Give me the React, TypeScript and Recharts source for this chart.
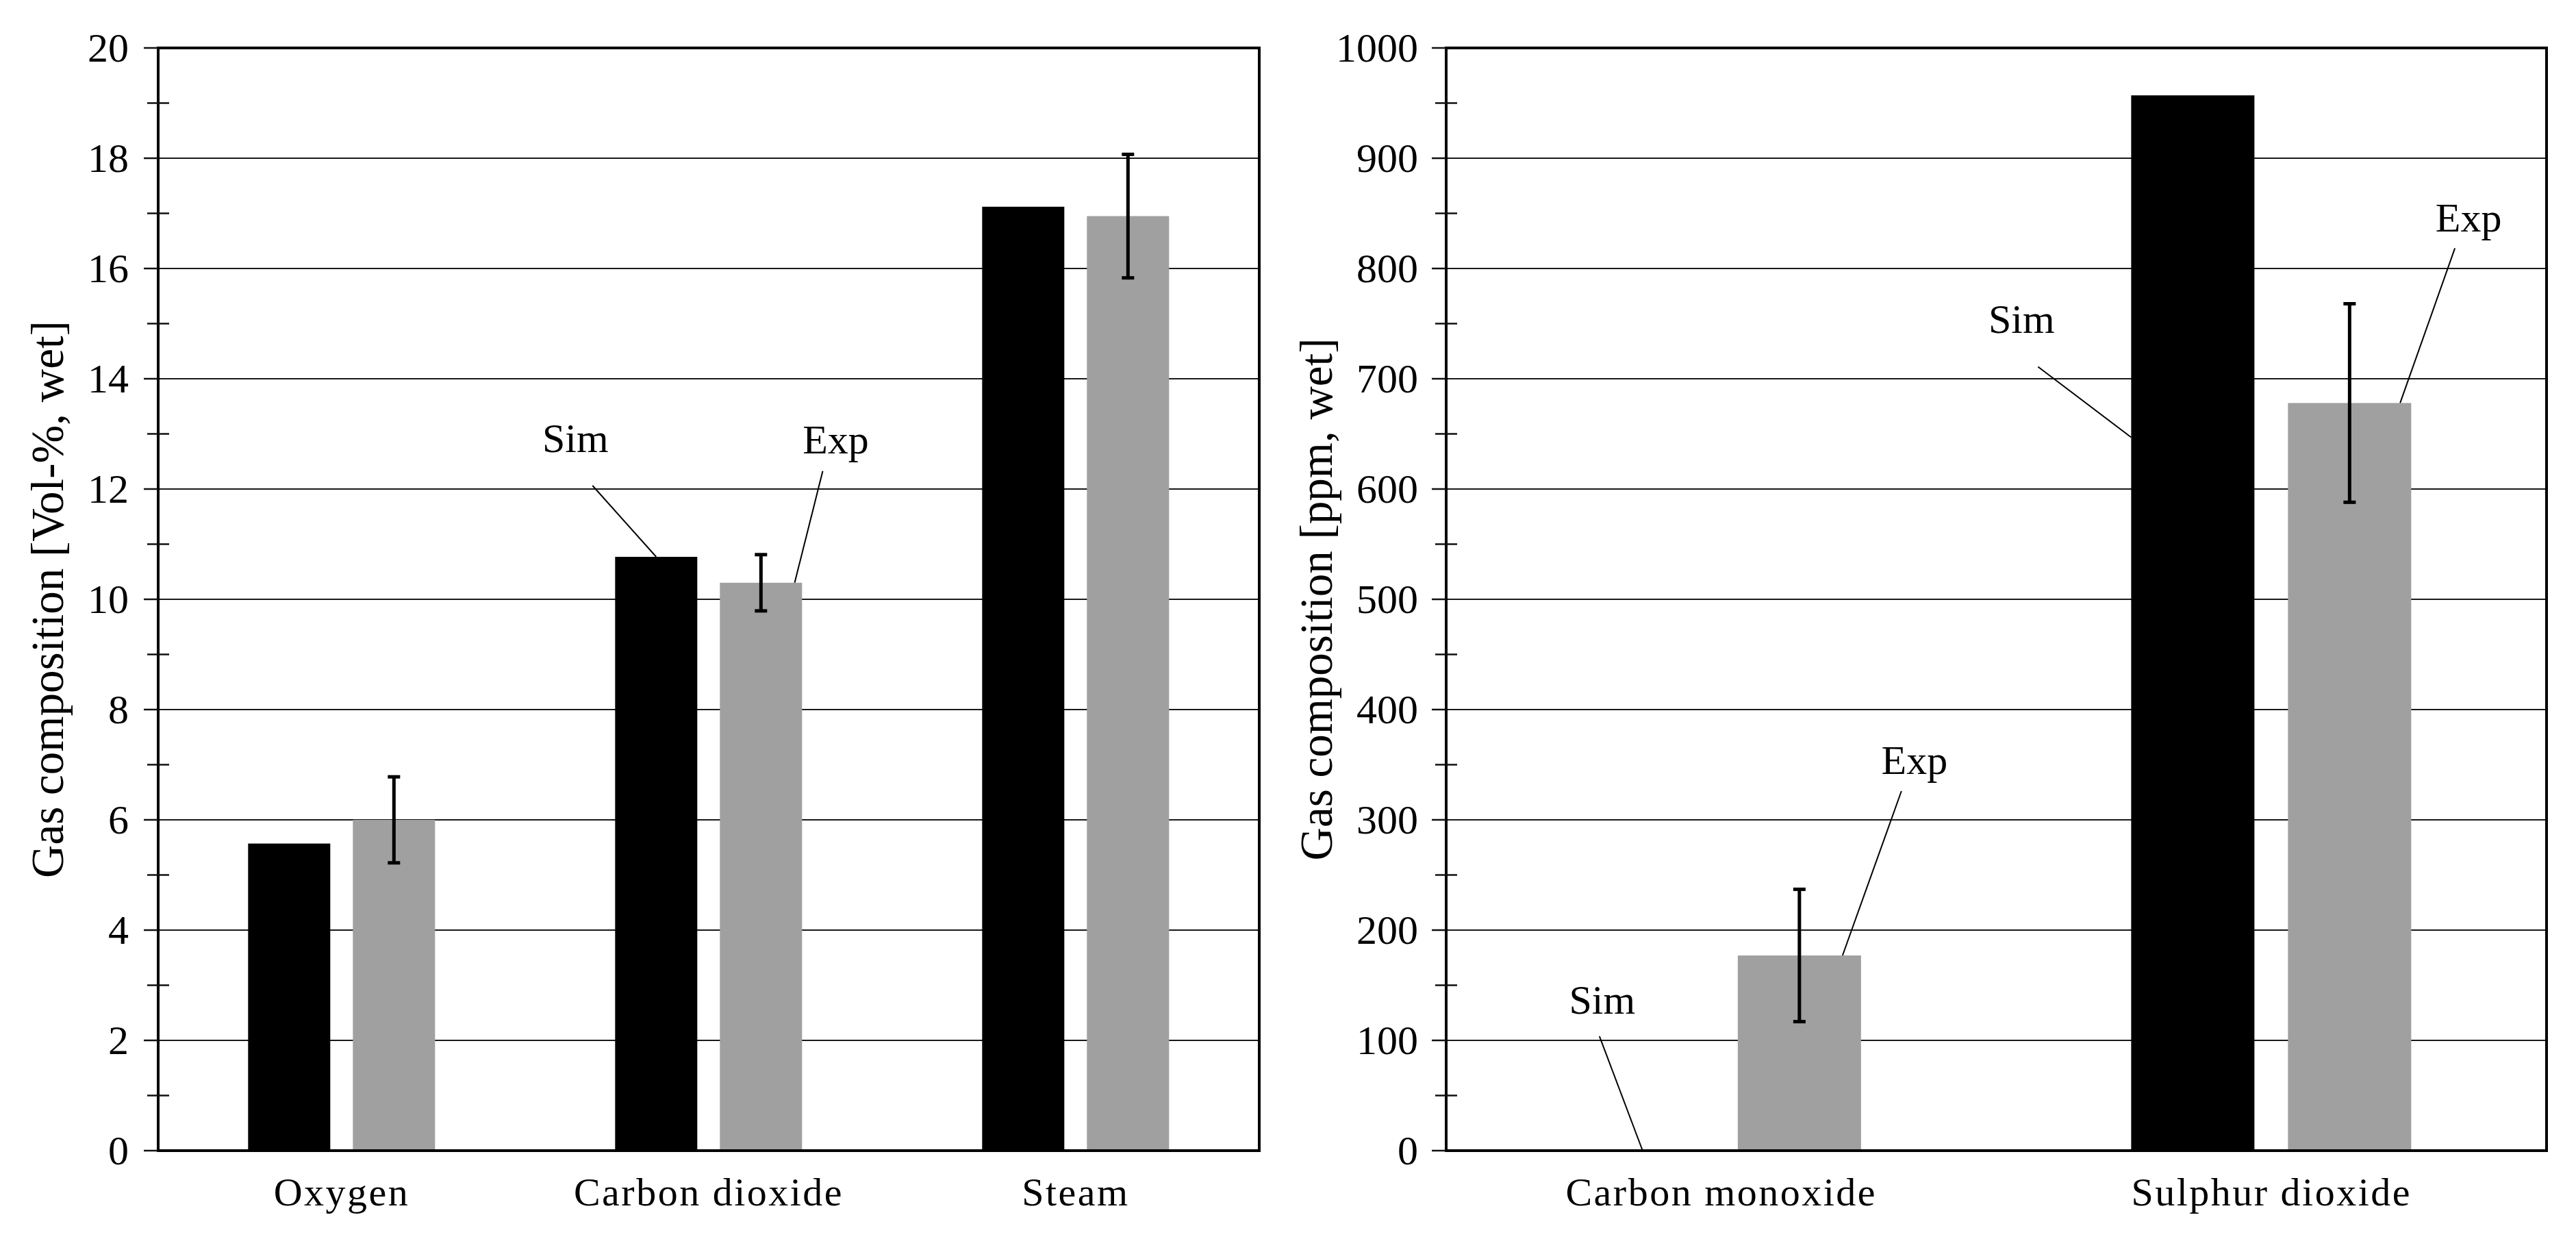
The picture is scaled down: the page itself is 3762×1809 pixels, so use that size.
import React from "react";
import {
  BarChart,
  Bar,
  XAxis,
  YAxis,
  CartesianGrid,
  ErrorBar,
  ReferenceArea,
} from "recharts";

const FONT = '"Liberation Serif", "Times New Roman", serif';

// Left panel: main flue gas components [Vol-%, wet]
const leftCategories = ["Oxygen", "Carbon dioxide", "Steam"];
const leftSim = [5.57, 10.77, 17.12];
const leftExp = [6.0, 10.3, 16.95];
const leftExpErr = [0.78, 0.51, 1.12];
const leftTicks = [0, 1, 2, 3, 4, 5, 6, 7, 8, 9, 10, 11, 12, 13, 14, 15, 16, 17, 18, 19, 20];
const leftMajor = [0, 2, 4, 6, 8, 10, 12, 14, 16, 18, 20];

// Right panel: trace components [ppm, wet]
const rightCategories = ["Carbon monoxide", "Sulphur dioxide"];
const rightSim = [0, 957];
const rightExp = [177, 678];
const rightExpErr = [60, 90];
const rightTicks = [
  0, 50, 100, 150, 200, 250, 300, 350, 400, 450, 500, 550, 600, 650, 700, 750, 800, 850, 900, 950, 1000,
];
const rightMajor = [0, 100, 200, 300, 400, 500, 600, 700, 800, 900, 1000];

// "Sim" / "Exp" callouts, offsets relative to a point on the bar
type Note = { fx: number; fy: number; lx: number; ly: number; tx: number; ty: number };

const leftNotes: Record<string, { sim?: Note; exp?: Note }> = {
  "Carbon dioxide": {
    sim: { fx: 0.5, fy: 0, lx: -93, ly: -104, tx: -118, ty: -153 },
    exp: { fx: 0.91, fy: 0, lx: 41, ly: -163, tx: 60, ty: -189 },
  },
};

const rightNotes: Record<string, { sim?: Note; exp?: Note }> = {
  "Carbon monoxide": {
    sim: { fx: 0.5, fy: 0, lx: -63, ly: -167, tx: -59, ty: -200 },
    exp: { fx: 0.85, fy: 0, lx: 86, ly: -240, tx: 105, ty: -265 },
  },
  "Sulphur dioxide": {
    sim: { fx: 0, fy: 0.324, lx: -136, ly: -103, tx: -160, ty: -152 },
    exp: { fx: 0.91, fy: 0, lx: 80, ly: -226, tx: 100, ty: -250 },
  },
};

const TICK_SIZE = 21;

const makeShape = (fill: string, notes: any, key: "sim" | "exp", label: string) => (props: any) => {
  const { x, y, width, height, payload } = props;
  const note: Note | undefined = notes[payload?.name]?.[key];
  const ax = x + width * (note?.fx ?? 0);
  const ay = y + height * (note?.fy ?? 0);
  return (
    <g>
      {height > 0 && <rect x={x} y={y} width={width} height={height} fill={fill} />}
      {note && (
        <g>
          <line x1={ax} y1={ay} x2={ax + note.lx} y2={ay + note.ly} stroke="#000" strokeWidth={2} />
          <text
            x={ax + note.tx}
            y={ay + note.ty}
            textAnchor="middle"
            fontSize={60}
            fontFamily={FONT}
            fill="#000"
          >
            {label}
          </text>
        </g>
      )}
    </g>
  );
};

const YTick = (props: any) => {
  const { x, y, payload, majors, margin } = props;
  const axisX = x + TICK_SIZE + margin;
  const isMajor = majors.includes(payload.value);
  return (
    <g>
      {isMajor ? (
        <line x1={axisX - TICK_SIZE} x2={axisX} y1={y} y2={y} stroke="#111" strokeWidth={2.5} />
      ) : (
        <line x1={axisX - 16} x2={axisX + 16} y1={y} y2={y} stroke="#111" strokeWidth={2.5} />
      )}
      {isMajor && (
        <text x={x} y={y} dy="0.34em" textAnchor="end" fontSize={60} fontFamily={FONT} fill="#000">
          {payload.value}
        </text>
      )}
    </g>
  );
};

const XTick = (props: any) => {
  const { x, y, payload } = props;
  return (
    <text
      x={x}
      y={y}
      dy="0.71em"
      textAnchor="middle"
      fontSize={58}
      letterSpacing={2.5}
      fontFamily={FONT}
      fill="#000"
    >
      {payload.value}
    </text>
  );
};

const yTitle = (text: string, gap: number) => (props: any) => {
  const vb = props.viewBox || {};
  const bx = vb.x + vb.width - gap;
  const cy = vb.y + vb.height / 2;
  return (
    <text
      x={bx}
      y={cy}
      transform={`rotate(-90 ${bx} ${cy})`}
      textAnchor="middle"
      fontSize={67}
      fontFamily={FONT}
      fill="#000"
    >
      {text}
    </text>
  );
};

interface PanelProps {
  categories: string[];
  sim: number[];
  exp: number[];
  err: number[];
  ticks: number[];
  majors: number[];
  title: string;
  titleGap: number;
  width: number;
  yAxisWidth: number;
  marginRight: number;
  barGap: number;
  tickMargin: number;
  notes: any;
}

const Panel = (p: PanelProps) => {
  const data = p.categories.map((name, i) => ({
    name,
    sim: p.sim[i],
    exp: p.exp[i],
    expErr: p.err[i],
  }));
  const top = p.ticks[p.ticks.length - 1];

  return (
    <BarChart
      width={p.width}
      height={1809}
      data={data}
      margin={{ top: 70, right: p.marginRight, bottom: 0, left: 0 }}
      barCategoryGap="24.5%"
      barGap={p.barGap}
      style={{ fontFamily: FONT }}
    >
      <CartesianGrid vertical={false} horizontalValues={p.majors} stroke="#1a1a1a" strokeWidth={2} />
      <XAxis
        dataKey="name"
        height={129}
        tickLine={false}
        tickSize={0}
        tickMargin={39}
        axisLine={{ stroke: "#000", strokeWidth: 4 }}
        tick={(t: any) => <XTick {...t} />}
      />
      <YAxis
        type="number"
        domain={[0, top]}
        ticks={p.ticks}
        interval={0}
        width={p.yAxisWidth}
        tickLine={false}
        tickSize={TICK_SIZE}
        tickMargin={p.tickMargin}
        axisLine={{ stroke: "#000", strokeWidth: 4 }}
        tick={(t: any) => <YTick {...t} majors={p.majors} margin={p.tickMargin} />}
        label={yTitle(p.title, p.titleGap)}
      />
      <Bar
        dataKey="sim"
        fill="#000000"
        isAnimationActive={false}
        shape={makeShape("#000000", p.notes, "sim", "Sim")}
      />
      <Bar
        dataKey="exp"
        fill="#a0a0a0"
        isAnimationActive={false}
        shape={makeShape("#a0a0a0", p.notes, "exp", "Exp")}
      >
        <ErrorBar dataKey="expErr" width={9} strokeWidth={5} stroke="#000" isAnimationActive={false} />
      </Bar>
      <ReferenceArea y1={0} y2={top} fill="none" stroke="#000" strokeWidth={4} ifOverflow="visible" />
    </BarChart>
  );
};

export default function App() {
  return (
    <div
      style={{
        position: "absolute",
        left: 0,
        top: 0,
        width: 3762,
        height: 1809,
        background: "#fff",
        display: "flex",
      }}
    >
      <Panel
        categories={leftCategories}
        sim={leftSim}
        exp={leftExp}
        err={leftExpErr}
        ticks={leftTicks}
        majors={leftMajor}
        title="Gas composition [Vol-%, wet]"
        titleGap={139}
        width={1880}
        yAxisWidth={231}
        marginRight={41}
        barGap={33}
        tickMargin={22}
        notes={leftNotes}
      />
      <Panel
        categories={rightCategories}
        sim={rightSim}
        exp={rightExp}
        err={rightExpErr}
        ticks={rightTicks}
        majors={rightMajor}
        title="Gas composition [ppm, wet]"
        titleGap={167}
        width={1882}
        yAxisWidth={232}
        marginRight={43}
        barGap={49}
        tickMargin={20}
        notes={rightNotes}
      />
    </div>
  );
}
